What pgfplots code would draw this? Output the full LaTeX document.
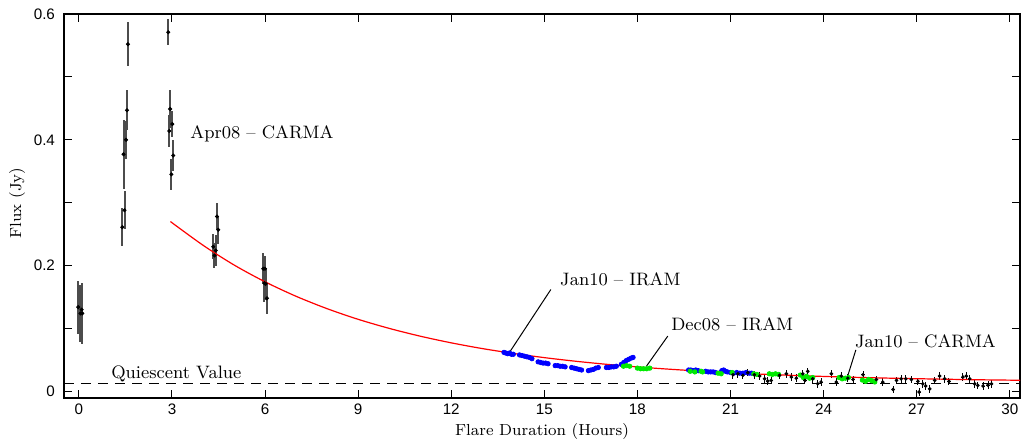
\documentclass[border=0pt]{standalone}
\usepackage{fontspec}
\setsansfont{Liberation Sans}
\usepackage{pgfplots}
\pgfplotsset{compat=1.18}
\definecolor{iramblue}{RGB}{0,0,255}
\definecolor{iramgreen}{RGB}{0,235,0}

\newcommand{\annfont}{\fontsize{9}{10}\selectfont}

\begin{document}
\begin{tikzpicture}
\begin{axis}[
    scale only axis,
    width=478pt, height=192pt,
    xmin=-0.48, xmax=30.33,
    ymin=-0.0105, ymax=0.6,
    xtick={0,3,...,30},
    ytick={0,0.2,0.4,0.6},
    minor ytick={0.1,0.3,0.5},
    tick align=inside,
    major tick length=4pt, minor tick length=4pt,
    tick style={black, line width=0.5pt},
    axis line style={line width=0.6pt},
    /pgf/number format/assume math mode=true,
    ticklabel style={font=\sffamily\fontsize{7.6}{9}\selectfont},
    xticklabel style={anchor=center, yshift=-5.5pt},
    yticklabel style={xshift=-1pt},
    label style={font=\fontsize{8}{9}\selectfont},
    xlabel={Flare Duration (Hours)},
    ylabel={Flux (Jy)},
    xlabel style={at={(axis description cs:0.5,-0.088)}, anchor=center},
    ylabel style={at={(axis description cs:-0.049,0.508)}, anchor=center},
]

% quiescent level
\addplot[black, line width=0.5pt, dash pattern=on 5pt off 3.5pt] coordinates {(-0.48,0.0133) (30.33,0.0133)};

% Apr08 - CARMA
\addplot[only marks, mark=*, mark size=0.8pt, black,
    error bars/.cd, y dir=both, y explicit,
    error bar style={line width=1pt, black!70}, error mark=none]
    table[x=x, y=y, y error=e] {
x     y      e
-0.02 0.134  0.042
0.05  0.124  0.045
0.09  0.130  0.040
0.11  0.124  0.048
1.40  0.261  0.030
1.47  0.288  0.030
1.44  0.377  0.055
1.52  0.400  0.030
1.55  0.447  0.032
1.58  0.552  0.035
2.88  0.571  0.021
2.94  0.449  0.030
2.91  0.414  0.025
3.01  0.425  0.020
3.04  0.375  0.025
2.98  0.345  0.025
4.33  0.230  0.020
4.37  0.216  0.020
4.41  0.224  0.025
4.45  0.278  0.022
4.49  0.257  0.022
5.94  0.195  0.025
5.98  0.172  0.030
6.00  0.195  0.020
6.02  0.171  0.025
6.06  0.148  0.025
};

% Jan10 - IRAM
\addplot[only marks, mark=*, mark size=1.1pt, color=iramblue] coordinates {
(13.70,0.062) (13.76,0.061) (13.82,0.060) (13.88,0.061) (13.94,0.059) (14.00,0.059)
(14.20,0.058) (14.28,0.057) (14.36,0.056) (14.44,0.055) (14.52,0.054) (14.60,0.052)
(14.80,0.047) (14.88,0.046) (14.96,0.045) (15.04,0.045) (15.12,0.044)
(15.35,0.041) (15.43,0.041) (15.51,0.040) (15.59,0.040) (15.67,0.039)
(15.88,0.038) (15.96,0.037) (16.04,0.036) (16.12,0.035) (16.20,0.034)
(16.42,0.033) (16.50,0.034) (16.58,0.035) (16.66,0.037) (16.74,0.038)
(17.00,0.038) (17.08,0.038) (17.16,0.039) (17.24,0.039) (17.32,0.040)
(17.48,0.043) (17.56,0.046) (17.64,0.049) (17.72,0.051) (17.80,0.053) (17.86,0.054)
(19.65,0.034) (19.72,0.034) (19.80,0.033) (19.88,0.034) (19.96,0.033)
(20.20,0.032) (20.28,0.031) (20.36,0.031) (20.44,0.031) (20.52,0.030)
(20.72,0.033) (20.78,0.034) (20.84,0.032) (20.90,0.031) (21.00,0.030)
(21.10,0.029) (21.20,0.030) (21.30,0.029) (21.40,0.029) (21.50,0.030)
(21.60,0.029) (21.68,0.029)
};

% Dec08 - IRAM
\addplot[only marks, mark=*, mark size=1.1pt, color=iramgreen] coordinates {
(17.55,0.040) (17.65,0.041) (17.75,0.040)
(18.00,0.037) (18.10,0.036) (18.20,0.036) (18.30,0.036) (18.40,0.037)
(19.70,0.032) (19.85,0.031) (20.05,0.032) (20.10,0.031) (20.60,0.029) (20.70,0.028)
(21.05,0.030) (21.75,0.028) (21.85,0.027)
(22.25,0.028) (22.35,0.027) (22.45,0.028) (22.55,0.027)
(23.25,0.026) (23.35,0.022) (23.45,0.024) (23.55,0.021) (23.65,0.022)
(24.50,0.022) (24.60,0.020) (24.70,0.021) (24.80,0.022)
(25.25,0.018) (25.35,0.016) (25.45,0.019) (25.55,0.017) (25.65,0.015)
};

% Jan10 - CARMA
\addplot[only marks, mark=*, mark size=0.7pt, black,
    error bars/.cd, x dir=both, x fixed=0.05, y dir=both, y fixed=0.006,
    error bar style={line width=0.5pt, black}, error mark=none]
    coordinates {
(21.08,0.0265) (21.24,0.028) (21.40,0.0255) (21.56,0.0297) (21.77,0.0265)
(21.94,0.0244) (22.10,0.020) (22.20,0.0164) (22.31,0.0175) (22.58,0.0255)
(22.80,0.028) (22.96,0.0228) (23.12,0.021) (23.33,0.028) (23.40,0.0175)
(23.49,0.0318) (23.65,0.020) (23.81,0.0122) (23.92,0.0148) (24.25,0.028)
(24.41,0.0148) (24.57,0.0244) (24.78,0.021) (24.95,0.019) (25.27,0.0265)
(25.70,0.019) (25.91,0.0148) (26.24,0.003) (26.35,0.0175) (26.50,0.020)
(26.65,0.020) (26.83,0.019) (27.04,0.016) (27.08,-0.001) (27.20,0.012)
(27.29,0.0085) (27.42,0.004) (27.58,0.0175) (27.74,0.0244) (27.90,0.020)
(28.04,0.016) (28.49,0.0228) (28.60,0.0244) (28.71,0.020) (28.87,0.012)
(28.97,0.0095) (29.14,0.0085) (29.30,0.010) (29.41,0.012)
};

% decay fit
\addplot[red, line width=0.6pt, smooth] coordinates {
(2.95,0.270) (4,0.2324) (5,0.2010) (6,0.1742) (7,0.1512) (8,0.1315)
(9,0.1146) (10,0.1002) (11,0.0878) (12,0.0772) (13,0.0681) (14,0.0604)
(15,0.0537) (16,0.0480) (17,0.0431) (18,0.0389) (19,0.0354) (20,0.0323)
(21,0.0297) (22,0.0274) (23,0.0255) (24,0.0238) (25,0.0224) (26,0.0212)
(27,0.0202) (28,0.0193) (29,0.0185) (30,0.0179) (30.33,0.0177)
};

% leader lines
\addplot[black, line width=0.5pt] coordinates {(15.21,0.162) (13.89,0.063)};
\addplot[black, line width=0.5pt] coordinates {(18.98,0.088) (18.29,0.040)};
\addplot[black, line width=0.5pt] coordinates {(25.04,0.066) (24.78,0.025)};

\node[anchor=west, inner sep=0pt, font=\annfont] at (axis cs:1.03,0.028) {Quiescent Value};
\node[anchor=west, inner sep=0pt, font=\annfont] at (axis cs:3.58,0.410) {Apr08 -- CARMA};
\node[anchor=west, inner sep=0pt, font=\annfont] at (axis cs:15.50,0.179) {Jan10 -- IRAM};
\node[anchor=west, inner sep=0pt, font=\annfont] at (axis cs:19.08,0.106) {Dec08 -- IRAM};
\node[anchor=west, inner sep=0pt, font=\annfont] at (axis cs:25.00,0.079) {Jan10 -- CARMA};
\end{axis}
\pgfresetboundingbox
\useasboundingbox ([xshift=-32pt,yshift=-21.5pt]current axis.south west) rectangle ([xshift=1pt,yshift=7pt]current axis.north east);
\end{tikzpicture}
\end{document}
